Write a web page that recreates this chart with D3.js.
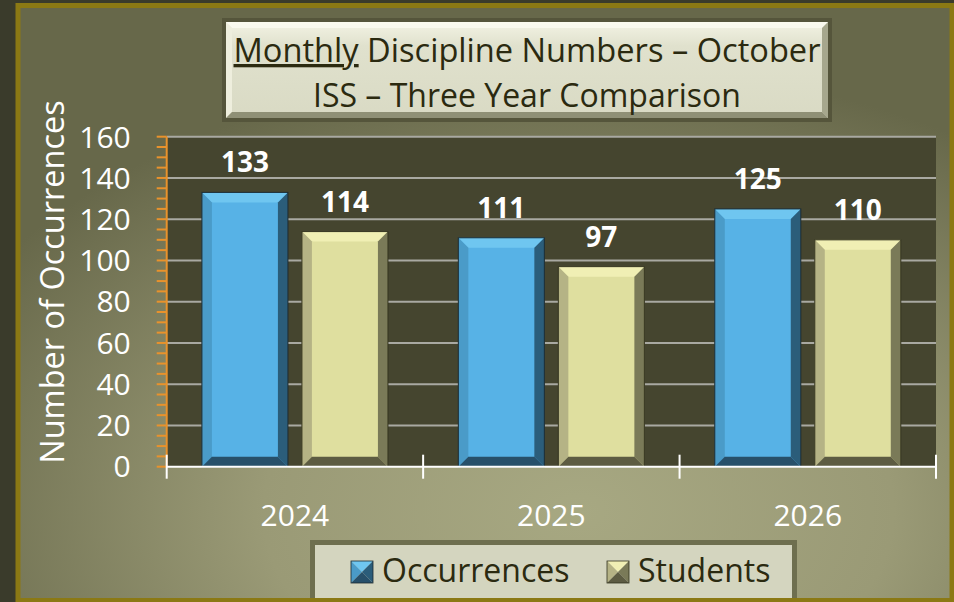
<!DOCTYPE html>
<html>
<head>
<meta charset="utf-8">
<script src="https://cdn.jsdelivr.net/npm/d3@7"></script>
<style>
  html, body { margin: 0; padding: 0; background: #3a3b2b; }
  svg { display: block; font-family: "Open Sans", sans-serif; }
</style>
</head>
<body>
<div id="chart"></div>
<script>
var years = ["2024", "2025", "2026"];
var series = ["Occurrences", "Students"];
var occurrences = [133, 111, 125];
var students = [114, 97, 110];
var yTicks = [0, 20, 40, 60, 80, 100, 120, 140, 160];

var rows = years.map(function(y, i) {
  return { year: y, values: [occurrences[i], students[i]] };
});

// face, top bevel, left bevel, right bevel, bottom bevel, outline
var palette = {
  Occurrences: ["#57b2e6", "#6fc6f0", "#4a9bc8", "#2b5d7a", "#27506a", "#1c2a30"],
  Students:    ["#dfdf9f", "#f0efb4", "#b5b385", "#7a7a58", "#5d5c42", "#33331f"]
};

var W = 954, H = 602;
var margin = { top: 136.7, right: 18, bottom: 135.3, left: 166.7 };
var width = W - margin.left - margin.right,
    height = H - margin.top - margin.bottom;

var svg = d3.select("#chart").append("svg")
    .attr("width", W)
    .attr("height", H);

var defs = svg.append("defs");

var bg = defs.append("radialGradient")
    .attr("id", "panelGrad")
    .attr("cx", "0.6").attr("cy", "0.85").attr("r", "0.75");
bg.append("stop").attr("offset", "0").attr("stop-color", "#a7a882");
bg.append("stop").attr("offset", "0.45").attr("stop-color", "#9a9a76");
bg.append("stop").attr("offset", "1").attr("stop-color", "#67684a");

var tg = defs.append("linearGradient")
    .attr("id", "titleGrad")
    .attr("x1", 0).attr("y1", 0).attr("x2", 0).attr("y2", 1);
tg.append("stop").attr("offset", "0").attr("stop-color", "#f3f3e4");
tg.append("stop").attr("offset", "0.25").attr("stop-color", "#e0e1cd");
tg.append("stop").attr("offset", "1").attr("stop-color", "#d9dac4");

// background panel
svg.append("rect")
    .attr("x", 18).attr("y", 5.5)
    .attr("width", 934).attr("height", 595)
    .attr("fill", "url(#panelGrad)");

// plot area
var g = svg.append("g")
    .attr("transform", "translate(" + margin.left + "," + margin.top + ")");

var x = d3.scaleBand().domain(years).range([0, width]);
var x1 = d3.scaleBand().domain(series).range([0, x.bandwidth()])
    .paddingInner(0.14).paddingOuter(0.352);
var y = d3.scaleLinear().domain([0, 160]).range([height, 0]);

g.append("rect")
    .attr("width", width).attr("height", height)
    .attr("fill", "#45452f");

g.selectAll(".grid")
  .data(yTicks.slice(1))
  .enter().append("line")
    .attr("class", "grid")
    .attr("x1", 0).attr("x2", width)
    .attr("y1", function(d) { return y(d); })
    .attr("y2", function(d) { return y(d); })
    .attr("stroke", "#a9a9a2")
    .attr("stroke-width", 2);

// bars with bevel
var bev = 10;
var bars = g.selectAll(".bar")
  .data(rows.flatMap(function(r) {
    return r.values.map(function(v, j) { return { year: r.year, key: series[j], value: v }; });
  }))
  .enter().append("g")
    .attr("class", "bar")
    .attr("transform", function(d) {
      return "translate(" + (x(d.year) + x1(d.key)) + "," + y(d.value) + ")";
    });

bars.each(function(d) {
  var el = d3.select(this);
  var w = x1.bandwidth(), h = height - y(d.value), c = palette[d.key];
  el.append("rect").attr("width", w).attr("height", h).attr("fill", c[0]);
  el.append("path").attr("fill", c[1])
    .attr("d", "M0,0H" + w + "L" + (w - bev) + "," + bev + "H" + bev + "Z");
  el.append("path").attr("fill", c[2])
    .attr("d", "M0,0L" + bev + "," + bev + "V" + (h - bev) + "L0," + h + "Z");
  el.append("path").attr("fill", c[3])
    .attr("d", "M" + w + ",0L" + (w - bev) + "," + bev + "V" + (h - bev) + "L" + w + "," + h + "Z");
  el.append("path").attr("fill", c[4])
    .attr("d", "M0," + h + "L" + bev + "," + (h - bev) + "H" + (w - bev) + "L" + w + "," + h + "Z");
  el.append("rect").attr("width", w).attr("height", h)
    .attr("fill", "none").attr("stroke", c[5]).attr("stroke-width", 1);
  el.append("text")
    .attr("x", w / 2).attr("y", -20)
    .attr("text-anchor", "middle")
    .attr("fill", "#ffffff")
    .attr("font-size", 28).attr("font-weight", "bold")
    .text(d.value);
});

// y axis: orange line with minor ticks every 5
var minor = d3.range(0, 161, 5);
g.append("line")
    .attr("x1", 0).attr("x2", 0).attr("y1", 0).attr("y2", height)
    .attr("stroke", "#e8922c").attr("stroke-width", 2);
g.selectAll(".ytick")
  .data(minor)
  .enter().append("line")
    .attr("class", "ytick")
    .attr("x1", -10).attr("x2", 0)
    .attr("y1", function(d) { return y(d); })
    .attr("y2", function(d) { return y(d); })
    .attr("stroke", "#e8922c").attr("stroke-width", 2);

g.selectAll(".ylab")
  .data(yTicks)
  .enter().append("text")
    .attr("class", "ylab")
    .attr("x", -36)
    .attr("y", function(d) { return y(d); })
    .attr("dy", "0.36em")
    .attr("text-anchor", "end")
    .attr("fill", "#ffffff")
    .attr("font-size", 30)
    .text(function(d) { return d; });

// x axis
g.append("line")
    .attr("x1", 0).attr("x2", width).attr("y1", height).attr("y2", height)
    .attr("stroke", "#ffffff").attr("stroke-width", 2);
g.selectAll(".xtick")
  .data(years.map(function(d) { return x(d); }).concat([width]))
  .enter().append("line")
    .attr("class", "xtick")
    .attr("x1", function(d) { return d; }).attr("x2", function(d) { return d; })
    .attr("y1", height - 12).attr("y2", height + 12)
    .attr("stroke", "#ffffff").attr("stroke-width", 2);
g.selectAll(".xlab")
  .data(years)
  .enter().append("text")
    .attr("class", "xlab")
    .attr("x", function(d) { return x(d) + x.bandwidth() / 2; })
    .attr("y", height + 59)
    .attr("text-anchor", "middle")
    .attr("fill", "#ffffff")
    .attr("font-size", 30)
    .text(function(d) { return d; });

// y axis title
svg.append("text")
    .attr("transform", "translate(64,282) rotate(-90)")
    .attr("text-anchor", "middle")
    .attr("fill", "#ffffff")
    .attr("font-size", 32.5)
    .text("Number of Occurrences");

// title box
var tb = svg.append("g").attr("transform", "translate(222,18)");
tb.append("rect").attr("width", 610).attr("height", 104).attr("fill", "#55553b");
tb.append("rect").attr("x", 4).attr("y", 4).attr("width", 602).attr("height", 96)
    .attr("fill", "url(#titleGrad)");
tb.append("path").attr("fill", "#fbfbf1").attr("opacity", 0.8)
    .attr("d", "M4,4H606L600,10H10Z");
tb.append("path").attr("fill", "#eeeedd")
    .attr("d", "M4,4L10,10V94L4,100Z");
tb.append("path").attr("fill", "#a6a78d")
    .attr("d", "M606,4L600,10V94L606,100Z");
tb.append("path").attr("fill", "#8f9076")
    .attr("d", "M4,100L10,94H600L606,100Z");

var t1 = tb.append("text")
    .attr("x", 305).attr("y", 44)
    .attr("text-anchor", "middle")
    .attr("fill", "#2b2a10")
    .attr("font-size", 33)
    .attr("textLength", 587).attr("lengthAdjust", "spacingAndGlyphs");
t1.append("tspan").attr("text-decoration", "underline").text("Monthly");
t1.append("tspan").text(" Discipline Numbers \u2013 October");

tb.append("text")
    .attr("x", 305).attr("y", 89)
    .attr("text-anchor", "middle")
    .attr("fill", "#2b2a10")
    .attr("font-size", 33)
    .attr("textLength", 428).attr("lengthAdjust", "spacingAndGlyphs")
    .text("ISS \u2013 Three Year Comparison");

// legend
var lg = svg.append("g").attr("transform", "translate(310,540)");
lg.append("rect").attr("width", 487).attr("height", 70).attr("fill", "#6e6f4f");
lg.append("rect").attr("x", 5).attr("y", 5).attr("width", 477).attr("height", 60)
    .attr("fill", "#d4d5bf");

var legendX = [41, 297];
var item = lg.selectAll(".item")
  .data(series)
  .enter().append("g")
    .attr("class", "item")
    .attr("transform", function(d, i) { return "translate(" + legendX[i] + ",21)"; });

item.each(function(d) {
  var el = d3.select(this), c = palette[d], s = 22, m = s / 2;
  el.append("path").attr("fill", c[1]).attr("d", "M0,0H" + s + "L" + m + "," + m + "Z");
  el.append("path").attr("fill", c[2]).attr("d", "M0,0V" + s + "L" + m + "," + m + "Z");
  el.append("path").attr("fill", c[3]).attr("d", "M" + s + ",0V" + s + "L" + m + "," + m + "Z");
  el.append("path").attr("fill", c[4]).attr("d", "M0," + s + "H" + s + "L" + m + "," + m + "Z");
  el.append("rect").attr("width", s).attr("height", s)
    .attr("fill", "none").attr("stroke", c[5]).attr("stroke-width", 0.8);
  el.append("text")
    .attr("x", 31).attr("y", 21)
    .attr("fill", "#2b2a10")
    .attr("font-size", 32)
    .text(d);
});

// gold frame on top
svg.append("rect")
    .attr("x", 18).attr("y", 5.5)
    .attr("width", 934).attr("height", 595)
    .attr("fill", "none")
    .attr("stroke", "#8b7914").attr("stroke-width", 5);
</script>
</body>
</html>
